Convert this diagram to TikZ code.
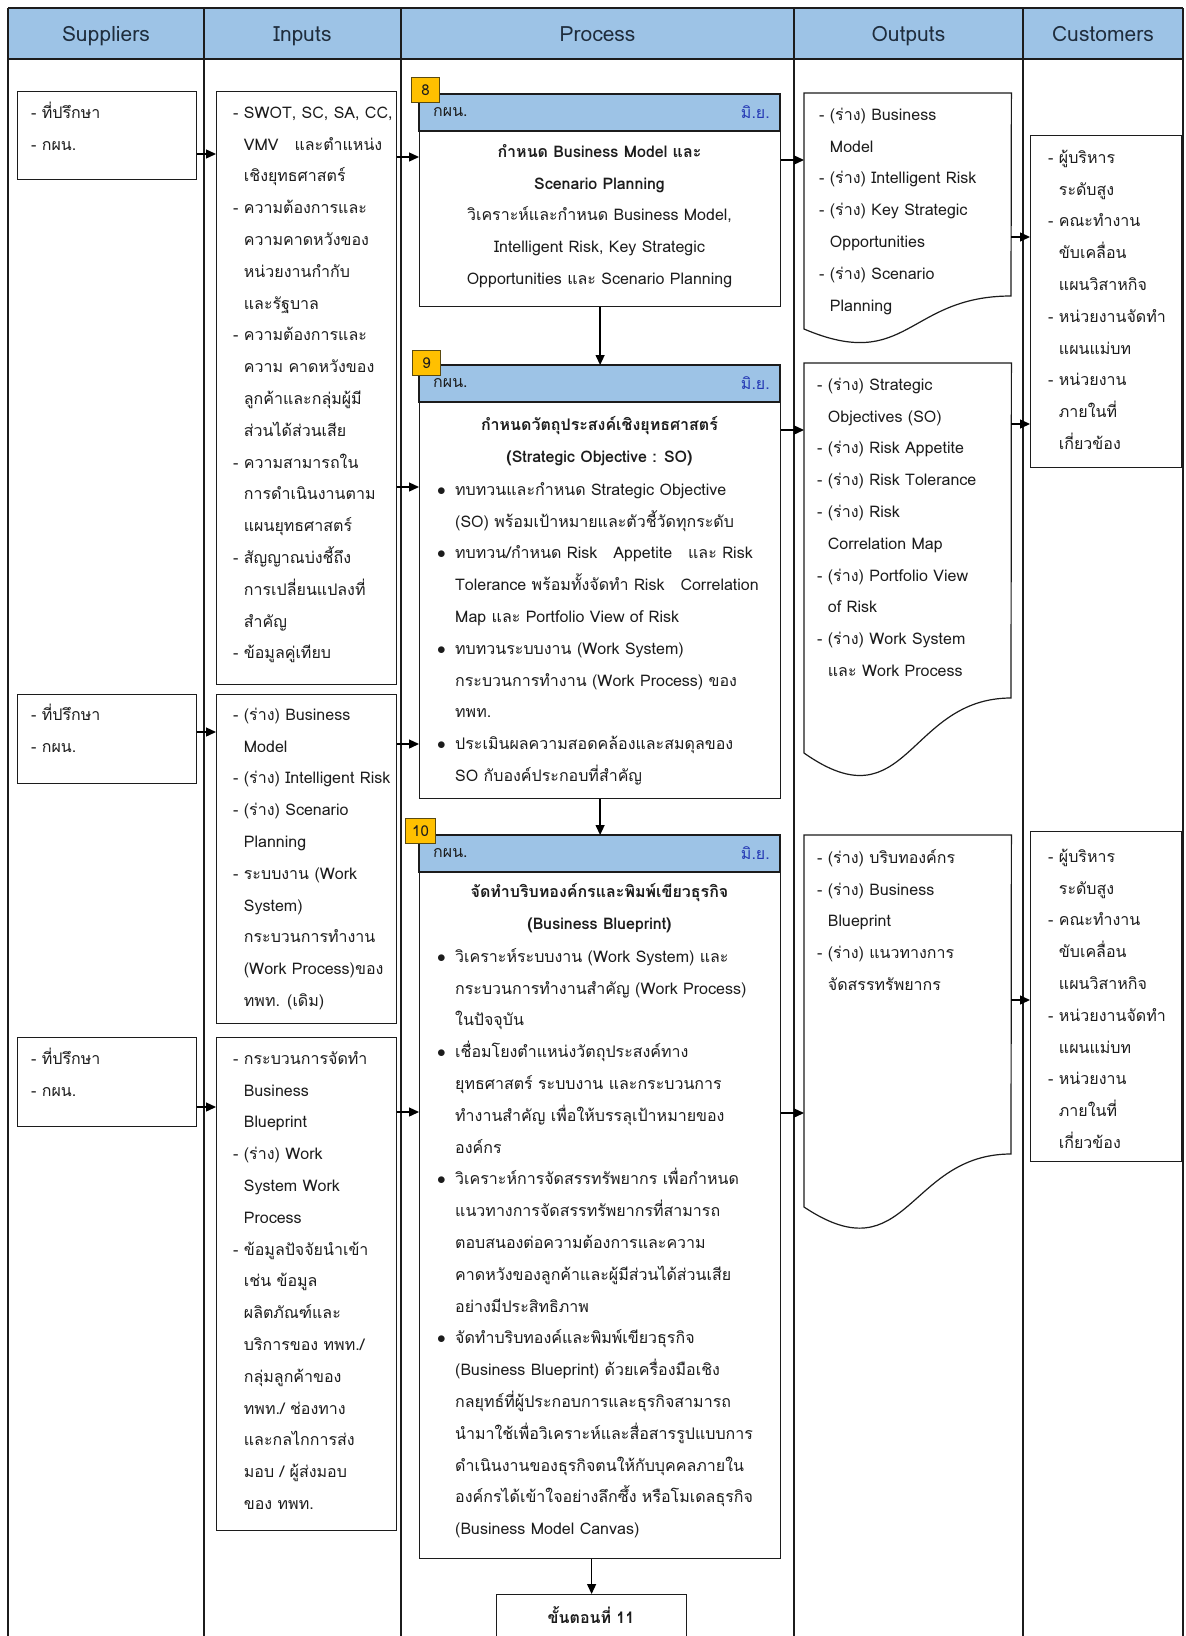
\documentclass[tikz,border=0pt]{standalone}
\usepackage{fontspec}
\setmainfont[Script=Thai]{Loma}
\usetikzlibrary{arrows.meta}
\definecolor{hdrblue}{HTML}{9DC3E6}
\definecolor{tagfill}{HTML}{FFC000}
\definecolor{tagline}{HTML}{5A4A10}
\definecolor{ink}{HTML}{1C1C1C}
\definecolor{headink}{HTML}{1F2D3D}
\definecolor{monthblue}{HTML}{2438B4}
\newcommand\bodysize{\fontsize{16}{31.8}\selectfont}
\newcommand\hdsize{\fontsize{21}{25}\selectfont}
\newcommand\tl{\rule{0pt}{22pt}}% strut fixing the first line
\newcommand\ind{\phantom{-\ }}
\newcommand\blt{\makebox[18pt][l]{$\bullet$}}
\newcommand\bind{\hspace*{18pt}}
\tikzset{
  frame/.style={draw=ink, line width=1.2pt},
  box/.style={draw=ink, line width=1.2pt, fill=white, inner sep=0pt, anchor=north west},
  area/.style={inner sep=0pt, anchor=north west},
  txt/.style={anchor=north west, inner sep=0pt, align=left, font=\bodysize, text=ink},
  ctxt/.style={anchor=north, inner sep=0pt, align=center, font=\bodysize, text=ink},
  colhead/.style={anchor=base, font=\hdsize, text=headink},
  band/.style={fill=hdrblue, draw=ink, line width=1.2pt},
  tag/.style={draw=tagline, fill=tagfill, line width=1pt, inner sep=0pt, anchor=north west,
    minimum height=25pt, font=\fontsize{15}{18}\selectfont, text=ink},
  arr/.style={draw=black, line width=1.3pt, -{Triangle[length=10pt,width=9pt]}},
}
\begin{document}
\begin{tikzpicture}[x=1pt,y=-1pt]
\useasboundingbox (0,0) rectangle (1186,1636);
\fill[white] (0,0) rectangle (1186,1636);

% ---------- table frame and column heads ----------
\fill[hdrblue] (8,8) rectangle (1183,59);
\draw[frame] (8,8) -- (1183,8);
\draw[frame] (8,59) -- (1183,59);
\foreach \cx in {8,204,401,794,1023,1183}
  \draw[frame] (\cx,8) -- (\cx,1645);
\node[colhead] (hS) at (106,41) {Suppliers};
\node[colhead] (hI) at (302.5,41) {Inputs};
\node[colhead] (hP) at (597.5,41) {Process};
\node[colhead] (hO) at (908.5,41) {Outputs};
\node[colhead] (hC) at (1103,41) {Customers};

% ---------- suppliers ----------
\node[box, minimum width=179pt, minimum height=88pt] (s1) at (17,91) {};
\node[box, minimum width=179pt, minimum height=89pt] (s2) at (17,694) {};
\node[box, minimum width=179pt, minimum height=89pt] (s3) at (17,1037) {};
\node[txt] (s1t) at (31,96) {\tl- ที่ปรึกษา\\- กผน.};
\node[txt] (s2t) at (31,698) {\tl- ที่ปรึกษา\\- กผน.};
\node[txt] (s3t) at (31,1042) {\tl- ที่ปรึกษา\\- กผน.};

% ---------- inputs ----------
\node[box, minimum width=180pt, minimum height=593pt] (i1) at (216,91) {};
\node[box, minimum width=180pt, minimum height=329pt] (i2) at (216,694) {};
\node[box, minimum width=180pt, minimum height=493pt] (i3) at (216,1037) {};
\node[txt] (i1t) at (233,96) {\tl- SWOT, SC, SA, CC,\\\ind VMV\quad และตำแหน่ง\\\ind เชิงยุทธศาสตร์\\
- ความต้องการและ\\\ind ความคาดหวังของ\\\ind หน่วยงานกำกับ\\\ind และรัฐบาล\\
- ความต้องการและ\\\ind ความ คาดหวังของ\\\ind ลูกค้าและกลุ่มผู้มี\\\ind ส่วนได้ส่วนเสีย\\
- ความสามารถใน\\\ind การดำเนินงานตาม\\\ind แผนยุทธศาสตร์\\
- สัญญาณบ่งชี้ถึง\\\ind การเปลี่ยนแปลงที่\\\ind สำคัญ\\
- ข้อมูลคู่เทียบ};
\node[txt] (i2t) at (233,698) {\tl- (ร่าง) Business\\\ind Model\\- (ร่าง) Intelligent Risk\\
- (ร่าง) Scenario\\\ind Planning\\- ระบบงาน (Work\\\ind System)\\\ind กระบวนการทำงาน\\
\ind (Work Process)ของ\\\ind ทพท. (เดิม)};
\node[txt] (i3t) at (233,1042) {\tl- กระบวนการจัดทำ\\\ind Business\\\ind Blueprint\\
- (ร่าง) Work\\\ind System Work\\\ind Process\\
- ข้อมูลปัจจัยนำเข้า\\\ind เช่น ข้อมูล\\\ind ผลิตภัณฑ์และ\\\ind บริการของ ทพท./\\
\ind กลุ่มลูกค้าของ\\\ind ทพท./ ช่องทาง\\\ind และกลไกการส่ง\\\ind มอบ / ผู้ส่งมอบ\\\ind ของ ทพท.};

% ---------- process steps ----------
\node[box, minimum width=361pt, minimum height=212pt] (p8) at (419,94) {};
\node[box, minimum width=361pt, minimum height=433pt] (p9) at (419,365) {};
\node[box, minimum width=361pt, minimum height=723pt] (p10) at (419,835) {};
\draw[band] (419,94) rectangle (780,131);
\draw[band] (419,365) rectangle (780,402);
\draw[band] (419,835) rectangle (780,872);
\node[tag, minimum width=28pt] (t8) at (411,77) {8};
\node[tag, minimum width=28pt] (t9) at (412,350) {9};
\node[tag, minimum width=30pt] (t10) at (405,818) {10};
\foreach \nm/\yy in {p8/112.5, p9/383.5, p10/853.5}{
  \node[anchor=west, font=\bodysize, text=ink, inner sep=0pt] (\nm u) at (433,\yy) {กผน.};
  \node[anchor=east, font=\bodysize, text=monthblue, inner sep=0pt] (\nm m) at (770,\yy) {มิ.ย.};
}
\node[ctxt] (p8t) at (599.5,135) {\tl\textbf{กำหนด Business Model และ}\\\textbf{Scenario Planning}\\
วิเคราะห์และกำหนด Business Model,\\Intelligent Risk, Key Strategic\\Opportunities และ Scenario Planning};

\node[ctxt] (p9h) at (599.5,408) {\tl\textbf{กำหนดวัตถุประสงค์เชิงยุทธศาสตร์}\\\textbf{(Strategic Objective : SO)}};
\node[txt] (p9t) at (437,473) {\tl\blt ทบทวนและกำหนด Strategic Objective\\
\bind (SO) พร้อมเป้าหมายและตัวชี้วัดทุกระดับ\\
\blt ทบทวน/กำหนด Risk\quad Appetite\quad และ Risk\\
\bind Tolerance พร้อมทั้งจัดทำ Risk\quad Correlation\\
\bind Map และ Portfolio View of Risk\\
\blt ทบทวนระบบงาน (Work System)\\
\bind กระบวนการทำงาน (Work Process) ของ\\
\bind ทพท.\\
\blt ประเมินผลความสอดคล้องและสมดุลของ\\
\bind SO กับองค์ประกอบที่สำคัญ};

\node[ctxt] (p10h) at (599.5,875) {\tl\textbf{จัดทำบริบทองค์กรและพิมพ์เขียวธุรกิจ}\\\textbf{(Business Blueprint)}};
\node[txt] (p10t) at (437,940) {\tl\blt วิเคราะห์ระบบงาน (Work System) และ\\
\bind กระบวนการทำงานสำคัญ (Work Process)\\
\bind ในปัจจุบัน\\
\blt เชื่อมโยงตำแหน่งวัตถุประสงค์ทาง\\
\bind ยุทธศาสตร์ ระบบงาน และกระบวนการ\\
\bind ทำงานสำคัญ เพื่อให้บรรลุเป้าหมายของ\\
\bind องค์กร\\
\blt วิเคราะห์การจัดสรรทรัพยากร เพื่อกำหนด\\
\bind แนวทางการจัดสรรทรัพยากรที่สามารถ\\
\bind ตอบสนองต่อความต้องการและความ\\
\bind คาดหวังของลูกค้าและผู้มีส่วนได้ส่วนเสีย\\
\bind อย่างมีประสิทธิภาพ\\
\blt จัดทำบริบทองค์และพิมพ์เขียวธุรกิจ\\
\bind (Business Blueprint) ด้วยเครื่องมือเชิง\\
\bind กลยุทธ์ที่ผู้ประกอบการและธุรกิจสามารถ\\
\bind นำมาใช้เพื่อวิเคราะห์และสื่อสารรูปแบบการ\\
\bind ดำเนินงานของธุรกิจตนให้กับบุคคลภายใน\\
\bind องค์กรได้เข้าใจอย่างลึกซึ้ง หรือโมเดลธุรกิจ\\
\bind (Business Model Canvas)};

\node[box, minimum width=190pt, minimum height=52pt] (fin) at (496,1594) {};
\node[font=\bodysize, text=ink, inner sep=0pt] (fint) at (591,1615) {\textbf{ขั้นตอนที่ 11}};

% ---------- outputs (document shapes) ----------
\node[area, minimum width=207pt, minimum height=253pt] (o1) at (804,93) {};
\node[area, minimum width=207pt, minimum height=418pt] (o2) at (804,363) {};
\node[area, minimum width=207pt, minimum height=398pt] (o3) at (804,835) {};
\draw[frame, fill=white] (o1.north west) -- (o1.north east) -- (1011,296)
  .. controls (907.5,296) and (907.5,373) .. (804,329) -- cycle;
\draw[frame, fill=white] (o2.north west) -- (o2.north east) -- (1011,698)
  .. controls (907.5,698) and (907.5,826) .. (804,753) -- cycle;
\draw[frame, fill=white] (o3.north west) -- (o3.north east) -- (1011,1154)
  .. controls (907.5,1154) and (907.5,1276) .. (804,1207) -- cycle;
\node[txt] (o1t) at (819,98) {\tl- (ร่าง) Business\\\ind Model\\- (ร่าง) Intelligent Risk\\
- (ร่าง) Key Strategic\\\ind Opportunities\\- (ร่าง) Scenario\\\ind Planning};
\node[txt] (o2t) at (817,368) {\tl- (ร่าง) Strategic\\\ind Objectives (SO)\\- (ร่าง) Risk Appetite\\
- (ร่าง) Risk Tolerance\\- (ร่าง) Risk\\\ind Correlation Map\\- (ร่าง) Portfolio View\\
\ind of Risk\\- (ร่าง) Work System\\\ind และ Work Process};
\node[txt] (o3t) at (817,841) {\tl- (ร่าง) บริบทองค์กร\\- (ร่าง) Business\\\ind Blueprint\\
- (ร่าง) แนวทางการ\\\ind จัดสรรทรัพยากร};

% ---------- customers ----------
\node[box, minimum width=151pt, minimum height=332pt] (c1) at (1030,135) {};
\node[box, minimum width=151pt, minimum height=330pt] (c2) at (1030,831) {};
\foreach \nm/\yy in {c1/141, c2/840}
  \node[txt] (\nm t) at (1048,\yy) {\tl- ผู้บริหาร\\\ind ระดับสูง\\- คณะทำงาน\\\ind ขับเคลื่อน\\
  \ind แผนวิสาหกิจ\\- หน่วยงานจัดทำ\\\ind แผนแม่บท\\- หน่วยงาน\\\ind ภายในที่\\\ind เกี่ยวข้อง};

% ---------- connector rows ----------
\foreach \nm/\yy in {r154/154, r157/157, r160/160, r237/237, r487/487, r430/430, r424/424,
  r732/732, r744/744, r1107/1107, r1112/1112, r1113/1113, r1000/1000}
  \coordinate (\nm) at (0,\yy);

\draw[arr] (s1.east |- r154) -- (i1.west |- r154);
\draw[arr] (i1.east |- r157) -- (p8.west |- r157);
\draw[arr] (p8.east |- r160) -- (o1.west |- r160);
\draw[arr] (o1.east |- r237) -- (c1.west |- r237);
\draw[arr] (i1.east |- r487) -- (p9.west |- r487);
\draw[arr] (p9.east |- r430) -- (o2.west |- r430);
\draw[arr] (o2.east |- r424) -- (c1.west |- r424);
\draw[arr] (s2.east |- r732) -- (i2.west |- r732);
\draw[arr] (i2.east |- r744) -- (p9.west |- r744);
\draw[arr] (s3.east |- r1107) -- (i3.west |- r1107);
\draw[arr] (i3.east |- r1112) -- (p10.west |- r1112);
\draw[arr] (p10.east |- r1113) -- (o3.west |- r1113);
\draw[arr] (o3.east |- r1000) -- (c2.west |- r1000);
\draw[arr] (p8.south) -- (p9.north);
\draw[arr] (p9.south) -- (p10.north);
\draw[arr] (fin.north |- p10.south) -- (fin.north);
\end{tikzpicture}
\end{document}
